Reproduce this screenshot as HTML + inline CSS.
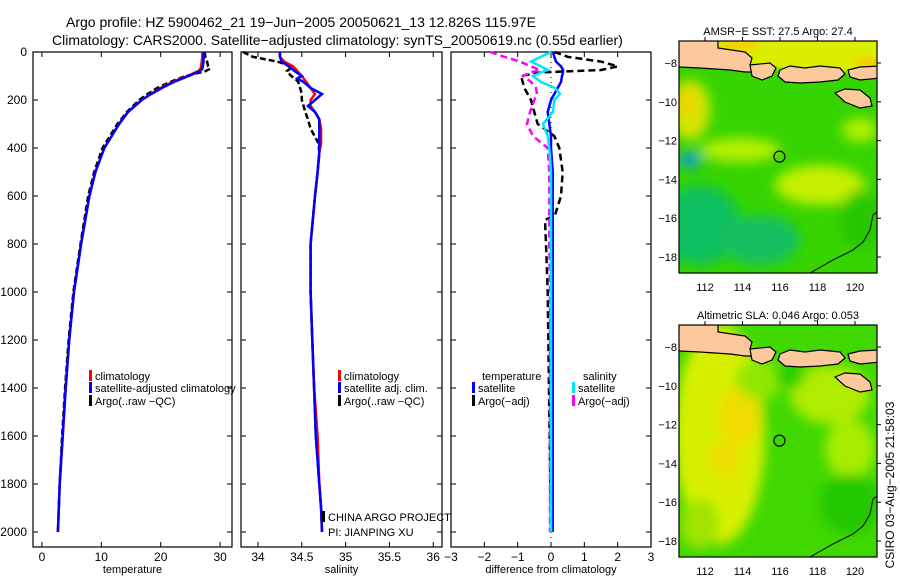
<!DOCTYPE html>
<html><head><meta charset="utf-8">
<style>
html,body{margin:0;padding:0;background:#fff;}
svg{display:block;font-family:"Liberation Sans",sans-serif;}
text{fill:#000;}
</style></head>
<body>
<svg id="fig" width="900" height="580" viewBox="0 0 900 580">
<defs>
<filter id="bl" x="-50%" y="-50%" width="200%" height="200%"><feGaussianBlur stdDeviation="6"/></filter>
<filter id="bl2" x="-20%" y="-50%" width="140%" height="200%"><feGaussianBlur stdDeviation="2"/></filter>
<clipPath id="c1"><rect x="679" y="41" width="198" height="232"/></clipPath>
<clipPath id="c2"><rect x="679" y="325" width="198" height="232"/></clipPath>
</defs>
<text x="66" y="27" font-size="14">Argo profile: HZ 5900462_21 19−Jun−2005 20050621_13 12.826S 115.97E</text>
<text x="52" y="45" font-size="14">Climatology: CARS2000. Satellite−adjusted climatology: synTS_20050619.nc (0.55d earlier)</text>
<g id="plots"></g>
<g id="maps"></g>
<text transform="translate(894,485) rotate(-90)" text-anchor="middle" font-size="12">CSIRO 03−Aug−2005 21:58:03</text>
</svg>
<script>
// ---- data ----
const tDepth=[0,20,40,60,70,80,100,125,150,175,200,250,300,400,500,600,800,1000,1200,1400,1600,1800,2000];
const tClim=[27.0,27.0,26.9,26.8,26.7,26.3,24.5,22,20,18.3,16.8,14.5,13,10.5,9,8,6.6,5.4,4.6,4,3.5,3,2.7];
const tSat=[27.2,27.2,27.2,27.1,27.0,26.6,24.7,22.2,20.2,18.4,16.8,14.5,13,10.5,9,8,6.6,5.4,4.6,4,3.5,3,2.7];
const tArgo=[27.4,27.5,27.8,28.0,28.3,27.5,24.2,21.6,19.4,17.8,16.4,14.3,12.7,10.2,8.8,7.8,6.5,5.3,4.5,3.9,3.4,3.0,2.7];
const sDepth=[0,20,40,60,80,100,110,125,150,175,200,225,250,280,320,380,420,500,600,800,1000,1200,1400,1600,1800,1900,2000];
const sClim=[34.25,34.25,34.3,34.4,34.45,34.5,34.52,34.55,34.6,34.65,34.6,34.6,34.65,34.7,34.72,34.72,34.7,34.68,34.65,34.6,34.6,34.62,34.64,34.68,34.7,34.72,34.73];
const sSat=[34.25,34.25,34.27,34.35,34.42,34.5,34.45,34.52,34.6,34.73,34.65,34.57,34.65,34.7,34.7,34.7,34.7,34.68,34.65,34.6,34.6,34.62,34.64,34.66,34.7,34.72,34.73];
const sArgo=[33.83,33.94,34.22,34.4,34.33,34.38,34.42,34.46,34.48,34.5,34.5,34.52,34.54,34.57,34.6,34.69,34.7,34.68,34.65,34.6,34.6,34.62,34.64,34.66,34.7,34.72,34.73];
const dDepth=[0,20,40,60,75,85,100,125,150,175,200,250,300,350,400,500,600,680,700,800,1000,1500,2000];
const dTempSat=[0.06,0.1,0.15,0.3,0.36,0.36,0.33,0.3,0.2,0.1,0.0,-0.1,-0.05,0.0,0.0,0.05,0.05,0.05,0.05,0.05,0.05,0.05,0.05];
const dTempArgo=[0.1,0.5,1.5,2.0,1.5,-0.3,-0.9,-0.85,-0.8,-0.7,-0.6,-0.5,-0.4,0.1,0.25,0.35,0.3,0.12,-0.18,-0.15,-0.1,-0.05,0.0];
const dSalSat=[0,-0.3,-0.6,-0.3,-0.1,-0.3,-0.54,-0.3,0.12,0.27,0.1,0.06,-0.24,-0.1,-0.05,0,0,0,0,0,0,0,0];
const dSalArgo=[-1.83,-1.4,-0.93,-0.6,-0.33,-0.6,-0.84,-0.6,-0.45,-0.42,-0.5,-0.63,-0.72,-0.54,-0.1,-0.05,-0.05,-0.05,-0.05,-0.05,-0.03,-0.03,-0.03];
const depthTicks=[0,200,400,600,800,1000,1200,1400,1600,1800,2000];
const tTicks=[0,10,20,30];
const sTicks=[34,34.5,35,35.5,36];
const sTickLabels=["34","34.5","35","35.5","36"];
const dTicks=[-3,-2,-1,0,1,2,3];
const lonTicks=[112,114,116,118,120];
const latTicks=[-8,-10,-12,-14,-16,-18];

const NS="http://www.w3.org/2000/svg";
function mk(tag,attrs,parent){const e=document.createElementNS(NS,tag);for(const k in attrs)e.setAttribute(k,attrs[k]);parent.appendChild(e);return e;}
const plots=document.getElementById('plots');
const Y0=52,Y1=547;
const yScale=d=>52+d*0.24;

function panel(name,x0,x1,vmin,vmax,ticks,labels,xlabel,showY){
  const xs=v=>x0+(v-vmin)/(vmax-vmin)*(x1-x0);
  const g=mk('g',{},plots);
  
  
  const fr=mk('rect',{x:x0,y:Y0,width:x1-x0,height:Y1-Y0,fill:'none',stroke:'#000','stroke-width':1.2},g);
  
  
  ticks.forEach((v,i)=>{
    const x=xs(v);
    if(x>x0+1&&x<x1-1){mk('line',{x1:x,x2:x,y1:Y0,y2:Y0+5,stroke:'#000'},g);mk('line',{x1:x,x2:x,y1:Y1,y2:Y1-5,stroke:'#000'},g);}
    const t=mk('text',{x:x,y:Y1+14,'font-size':12,'text-anchor':'middle'},g);
    t.textContent=labels[i];
    
    
  });
  depthTicks.forEach(d=>{
    const y=yScale(d);
    if(y>Y0+1){mk('line',{x1:x0,x2:x0+5,y1:y,y2:y,stroke:'#000'},g);mk('line',{x1:x1,x2:x1-5,y1:y,y2:y,stroke:'#000'},g);}
    if(showY){const t=mk('text',{x:x0-6,y:y+4,'font-size':12,'text-anchor':'end'},g);t.textContent=d;
      
      }
  });
  const xl=mk('text',{x:(x0+x1)/2,y:Y1+26,'font-size':11,'text-anchor':'middle'},g);
  xl.textContent=xlabel;
  
  
  return {g,xs};
}
function series(p,name,depths,vals,color,dash,w){
  const pts=depths.map((d,i)=>p.xs(vals[i]).toFixed(1)+','+yScale(d).toFixed(1)).join(' ');
  const pl=mk('polyline',{points:pts,fill:'none',stroke:color,'stroke-width':w||2.5,'stroke-dasharray':dash||'none'},p.g);
  
  
}
function legend(g,x,y,color,label,name){
  if(color){mk('rect',{x:x,y:y-10,width:3,height:11,fill:color},g);}
  const t=mk('text',{x:x+6,y:y,'font-size':11},g);t.textContent=label;
  
  
}

const pT=panel('temperature',33,232,-1.5,32,tTicks,tTicks.map(String),'temperature',true);
series(pT,'temp-argo-line',tDepth,tArgo,'#000','6,3');
series(pT,'temp-climatology-line',tDepth,tClim,'#ff0000');
series(pT,'temp-satellite-line',tDepth,tSat,'#0000ff');
legend(pT.g,89,380,'#ff0000','climatology','legend-climatology');
legend(pT.g,89,392,'#0000ff','satellite-adjusted climatology','legend-satellite-adjusted');
legend(pT.g,89,405,'#000','Argo(..raw −QC)','legend-argo');

const pS=panel('salinity',241,442,33.806,36.1,sTicks,sTickLabels,'salinity',false);
series(pS,'sal-argo-line',sDepth,sArgo,'#000','6,3');
series(pS,'sal-climatology-line',sDepth,sClim,'#ff0000');
series(pS,'sal-satellite-line',sDepth,sSat,'#0000ff');
legend(pS.g,338,380,'#ff0000','climatology','legend-climatology');
legend(pS.g,338,392,'#0000ff','satellite adj. clim.','legend-satellite-adj');
legend(pS.g,338,405,'#000','Argo(..raw −QC)','legend-argo');
legend(pS.g,322,521,'#000','CHINA ARGO PROJECT','credit-project');
legend(pS.g,322,536,null,'PI: JIANPING XU','credit-pi');

const pD=panel('difference',451,651,-3,3,dTicks,dTicks.map(v=>v<0?'−'+(-v):String(v)),'difference from climatology',false);
mk('line',{x1:pD.xs(0),x2:pD.xs(0),y1:Y0,y2:Y1,stroke:'#000','stroke-dasharray':'1,4'},pD.g);
series(pD,'diff-temp-argo-line',dDepth,dTempArgo,'#000','7,4');
series(pD,'diff-sal-argo-line',dDepth,dSalArgo,'#ff00ff','7,4');
series(pD,'diff-temp-satellite-line',dDepth,dTempSat,'#0000ff');
series(pD,'diff-sal-satellite-line',dDepth,dSalSat,'#00e5ff');
legend(pD.g,476,380,null,'temperature','legend-temperature-heading');
legend(pD.g,472,392,'#0000ff','satellite','legend-temp-satellite');
legend(pD.g,472,405,'#000','Argo(−adj)','legend-temp-argo');
legend(pD.g,577,380,null,'salinity','legend-salinity-heading');
legend(pD.g,572,392,'#00e5ff','satellite','legend-sal-satellite');
legend(pD.g,572,405,'#ff00ff','Argo(−adj)','legend-sal-argo');

// ---- maps ----
const maps=document.getElementById('maps');
const lonX=l=>705+(l-112)*18.75;
function drawMap(name,top,title,blobs,base,northSea){
  const g=mk('g',{},maps);
  
  
  const off=top-41;
  const cg=mk('g',{'clip-path':'url(#'+(top===41?'c1':'c2')+')'},g);
  mk('rect',{x:679,y:top,width:198,height:232,fill:base},cg);
  const bg=mk('g',{filter:'url(#bl)'},cg);
  blobs.forEach(b=>mk('ellipse',{cx:b[0],cy:b[1]+off,rx:b[2],ry:b[3],fill:b[4]},bg));
  if(northSea){
    const ns=mk('g',{filter:'url(#bl2)'},cg);
    
    
    mk('polygon',{points:'712,36 885,36 885,72 845,72 800,70 760,68 730,60 712,50',fill:'#dcee00'},ns);
    mk('ellipse',{cx:740,cy:45,rx:20,ry:6,fill:'#f0d400'},ns);
    mk('ellipse',{cx:868,cy:62,rx:14,ry:6,fill:'#f0d400'},ns);
  }
  const land=mk('g',{transform:'translate(0,'+off+')',fill:'#fbc99b',stroke:'#000','stroke-width':1.2},cg);
  
  
  mk('polygon',{points:'675,38 718,38 718,48 745,52 752,58 750,65 760,68 758,72 745,72 730,70 700,68 679,67 675,67'},land);
  mk('polygon',{points:'750,65 770,63 776,68 772,76 762,80 752,76'},land);
  mk('polygon',{points:'780,70 790,66 805,68 820,66 840,68 845,74 838,80 820,82 800,83 785,82 778,76'},land);
  mk('polygon',{points:'848,70 860,67 880,66 880,78 860,80 850,77'},land);
  mk('polygon',{points:'835,93 845,89 860,90 870,98 872,106 860,108 845,102'},land);
  mk('polyline',{points:'810,273 833,260 853,250 863,242 870,230 873,215 880,210',fill:'none','stroke-width':1},land);
  const fr=mk('rect',{x:679,y:top,width:198,height:232,fill:'none',stroke:'#000','stroke-width':1.2},g);
  
  
  const c=mk('circle',{cx:lonX(115.97),cy:top+22+(12.826-8)*19.4,r:5.5,fill:'none',stroke:'#000','stroke-width':1.2},g);
  
  
  lonTicks.forEach(l=>{const x=lonX(l);
    mk('line',{x1:x,x2:x,y1:top,y2:top-4,stroke:'#000'},g);
    const t=mk('text',{x:x,y:top+250,'font-size':11,'text-anchor':'middle'},g);t.textContent=l;
    
    });
  latTicks.forEach(la=>{const y=top+22+(-8-la)*19.4;
    mk('line',{x1:877,x2:881,y1:y,y2:y,stroke:'#000'},g);
    const t=mk('text',{x:677,y:y+4,'font-size':11,'text-anchor':'end'},g);t.textContent='−'+(-la);
    
    });
  const tt=mk('text',{x:778,y:top-6,'font-size':11,'text-anchor':'middle'},g);tt.textContent=title;
  
  
}
drawMap('sst-map',41,'AMSR−E SST: 27.5 Argo: 27.4',[
 [690,110,20,30,'#d8e400'],[685,100,10,12,'#f0d000'],
 [740,150,40,12,'#b8f000'],[820,185,45,20,'#c4f000'],[860,130,18,12,'#b0f000'],
 [700,225,40,40,'#10c060'],[760,240,40,25,'#18c060'],[690,160,12,8,'#10a0d0'],[860,220,20,30,'#28c800']
],'#36d400',true);
drawMap('sla-map',325,'Altimetric SLA: 0.046 Argo: 0.053',[
 [720,150,45,110,'#d8f000'],[740,130,22,30,'#f0dc00'],[725,175,15,20,'#ecde00'],[760,95,25,20,'#90e800'],
 [830,110,40,30,'#b0ec00'],[850,165,25,30,'#a8ec00'],[700,240,20,25,'#a0e400'],[850,220,30,30,'#20c800'],[790,90,15,15,'#28d000']
],'#40d800',false);
</script>
</body></html>
